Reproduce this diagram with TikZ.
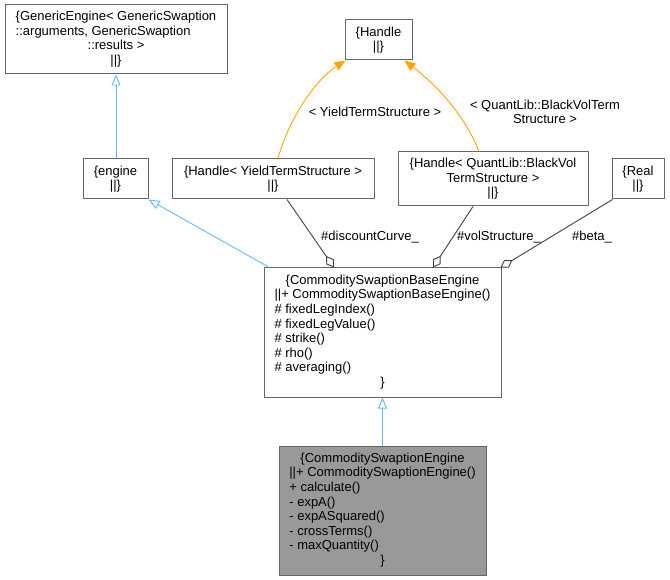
\documentclass[tikz,border=0pt]{standalone}
\usepackage{fontspec}
\setmainfont{Liberation Sans}
\usetikzlibrary{arrows.meta}
\definecolor{edgeblue}{HTML}{63B8FF}
\definecolor{edgeorange}{HTML}{FFA500}
\definecolor{edgegray}{HTML}{404040}
\definecolor{boxgray}{HTML}{666666}
\definecolor{curfill}{HTML}{999999}
\newcommand{\ctrline}[1]{\multicolumn{1}{@{}c@{}}{#1}}
\begin{document}
\begin{tikzpicture}[x=1pt,y=-1pt,
  txt/.style={font=\fontsize{13}{14.6}\selectfont, inner sep=0pt},
  cls/.style={txt, draw=boxgray, line width=1pt, align=center},
  inh/.style={draw=edgeblue, line width=0.9pt, -{Triangle[open,length=11pt,width=9pt]}},
  tmpl/.style={draw=edgeorange, line width=0.9pt, -{Triangle[length=11pt,width=9pt]}},
  agg/.style={draw=edgegray, line width=0.9pt, -{Diamond[open,length=14pt,width=9pt]}},
  lbl/.style={txt, align=center}]
\useasboundingbox (0,0) rectangle (670,580);

\node[cls, minimum width=222pt, minimum height=69pt] (ge) at (116,39.5)
  {\begin{tabular}{@{}l@{}}\ctrline{\{GenericEngine< GenericSwaption}\\ ::arguments, GenericSwaption\\ \ctrline{::results >}\\ \ctrline{||\}}\end{tabular}};
\node[cls, minimum width=67pt, minimum height=40pt] (handle) at (378.5,40)
  {\{Handle\\||\}};
\node[cls, minimum width=65pt, minimum height=40pt] (engine) at (115.5,179)
  {\{engine\\||\}};
\node[cls, minimum width=202pt, minimum height=40pt] (hy) at (273,179)
  {\{Handle< YieldTermStructure >\\||\}};
\node[cls, minimum width=190pt, minimum height=54pt] (hv) at (493,179)
  {\{Handle< QuantLib::BlackVol\\TermStructure >\\||\}};
\node[cls, minimum width=52pt, minimum height=40pt] (real) at (638,179)
  {\{Real\\||\}};
\node[cls, minimum width=237pt, minimum height=129pt] (base) at (382.5,332.5)
  {\begin{tabular}{@{}l@{}}\ctrline{\{CommoditySwaptionBaseEngine}\\ ||+ CommoditySwaptionBaseEngine()\\ \# fixedLegIndex()\\ \# fixedLegValue()\\ \# strike()\\ \# rho()\\ \# averaging()\\ \ctrline{\}}\end{tabular}};
\node[cls, fill=curfill, minimum width=207pt, minimum height=129pt] (cse) at (382.5,510.5)
  {\begin{tabular}{@{}l@{}}\ctrline{\{CommoditySwaptionEngine}\\ ||+ CommoditySwaptionEngine()\\ + calculate()\\ - expA()\\ - expASquared()\\ - crossTerms()\\ - maxQuantity()\\ \ctrline{\}}\end{tabular}};

% inheritance
\draw[inh] (engine.north -| ge.south) -- (ge.south);
\draw[inh] ([xshift=6pt]base.north west) -- (engine.south east);
\draw[inh] (cse.north) -- (base.south);

% template instantiation
\draw[tmpl] ([xshift=5pt]hy.north) .. controls (290,115) and (318,78) .. ([xshift=1pt]handle.south west);
\draw[tmpl] ([xshift=-14pt]hv.north) .. controls (466,118) and (440,88) .. ([xshift=-8pt]handle.south east);
\node[lbl] (lyt) at (375,112) {< YieldTermStructure >};
\node[lbl] (lbv) at (545,112) {< QuantLib::BlackVolTerm\\Structure >};

% aggregation
\draw[agg] ([xshift=14pt]hy.south) -- ([xshift=-48.5pt]base.north);
\draw[agg] ([xshift=-20pt]hv.south) -- ([xshift=50.5pt]base.north);
\draw[agg] ([xshift=1pt]real.south west) -- ([xshift=-1pt]base.north east);
\node[lbl] (ldc) at (370,237) {\#discountCurve\_};
\node[lbl] (lvs) at (499,237) {\#volStructure\_};
\node[lbl] (lbt) at (592,237) {\#beta\_};
\end{tikzpicture}
\end{document}
